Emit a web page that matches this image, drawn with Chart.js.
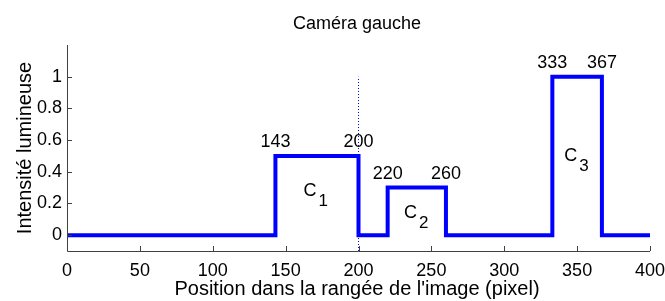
<!DOCTYPE html>
<html>
<head>
<meta charset="utf-8">
<script src="https://cdn.jsdelivr.net/npm/chart.js@4"></script>
<style>
  html, body { margin: 0; padding: 0; background: #fff; }
</style>
</head>
<body>
<canvas id="plot" width="665" height="301"></canvas>
<script>
// step profile of the row
const edges = [0, 143, 200, 220, 260, 333, 367, 400]
const levels = [0, 0.5, 0, 0.3, 0, 1, 0, 0]
// dotted cursor
const cursorX = [200, 200]
const cursorY = [-0.1, 1]
// edge annotations
const edgeLabels = [143, 200, 220, 260, 333, 367]
const edgeLabelY = [0.5, 0.5, 0.3, 0.3, 1, 1]
// cluster names
const clusterNames = ["1", "2", "3"]
const clusterX = [167, 236, 346]
const clusterY = [0.25, 0.11, 0.47]
const xTicks = [0, 50, 100, 150, 200, 250, 300, 350, 400]
const yTicks = [0, 0.2, 0.4, 0.6, 0.8, 1]

const FONT = "Liberation Sans, Arial, Helvetica, sans-serif"

const decor = {
  id: "decor",
  afterDraw(chart) {
    const c = chart.ctx
    const xs = chart.scales.x, ys = chart.scales.y
    const a = chart.chartArea
    c.save()
    // axes
    c.strokeStyle = "#404040"
    c.lineWidth = 1
    c.beginPath()
    c.moveTo(a.left + 0.5, a.top)
    c.lineTo(a.left + 0.5, a.bottom + 0.5)
    c.lineTo(a.right, a.bottom + 0.5)
    c.stroke()
    // inward ticks
    c.beginPath()
    xTicks.forEach(v => {
      const px = Math.round(xs.getPixelForValue(v)) + 0.5
      c.moveTo(px, a.bottom)
      c.lineTo(px, a.bottom - 5)
    })
    yTicks.forEach(v => {
      const py = Math.round(ys.getPixelForValue(v)) + 0.5
      c.moveTo(a.left, py)
      c.lineTo(a.left + 5, py)
    })
    c.stroke()

    c.fillStyle = "#000"
    c.font = "18px " + FONT
    c.textAlign = "center"
    c.textBaseline = "alphabetic"
    xTicks.forEach(v => c.fillText(String(v), xs.getPixelForValue(v), a.bottom + 25))
    c.textAlign = "right"
    c.textBaseline = "middle"
    yTicks.forEach(v => c.fillText(String(v), a.left - 5, ys.getPixelForValue(v)))

    // edge labels
    c.textAlign = "center"
    c.textBaseline = "alphabetic"
    edgeLabels.forEach((v, i) => {
      c.fillText(String(v), xs.getPixelForValue(v), ys.getPixelForValue(edgeLabelY[i]) - 9)
    })
    // cluster labels C with subscript
    clusterNames.forEach((n, i) => {
      const px = xs.getPixelForValue(clusterX[i])
      const py = ys.getPixelForValue(clusterY[i])
      c.font = "18px " + FONT
      c.textAlign = "right"
      c.fillText("C", px + 6, py)
      c.font = "17px " + FONT
      c.textAlign = "left"
      c.fillText(n, px + 8, py + 10)
    })

    // titles
    c.textAlign = "center"
    c.font = "18px " + FONT
    c.fillText("Caméra gauche", 357, 29)
    c.font = "20px " + FONT
    c.fillText("Position dans la rangée de l'image (pixel)", 357, 295)
    c.translate(31, 148)
    c.rotate(-Math.PI / 2)
    c.fillText("Intensité lumineuse", 0, 0)
    c.restore()
  }
}

new Chart(document.getElementById("plot"), {
  type: "line",
  data: {
    datasets: [
      {
        data: cursorX.map((x, i) => ({ x, y: cursorY[i] })),
        borderColor: "#0000ff",
        borderWidth: 1,
        borderDash: [1, 2],
        pointRadius: 0,
      },
      {
        data: edges.map((x, i) => ({ x, y: levels[i] })),
        stepped: "before",
        borderColor: "#0000ff",
        borderWidth: 4,
        pointRadius: 0,
        borderJoinStyle: "miter",
      },
    ],
  },
  options: {
    responsive: false,
    animation: false,
    devicePixelRatio: 1,
    layout: { padding: { top: 45, right: 15, left: 0, bottom: 0 } },
    plugins: { legend: { display: false }, title: { display: false }, tooltip: { enabled: false } },
    scales: {
      x: {
        type: "linear",
        min: 0,
        max: 400,
        grid: { display: false },
        border: { display: false },
        ticks: { display: false },
        afterFit: (s) => { s.height = 50 },
      },
      y: {
        min: -0.1,
        max: 1.2,
        grid: { display: false },
        border: { display: false },
        ticks: { display: false },
        afterFit: (s) => { s.width = 67 },
      },
    },
  },
  plugins: [decor],
})
</script>
</body>
</html>
